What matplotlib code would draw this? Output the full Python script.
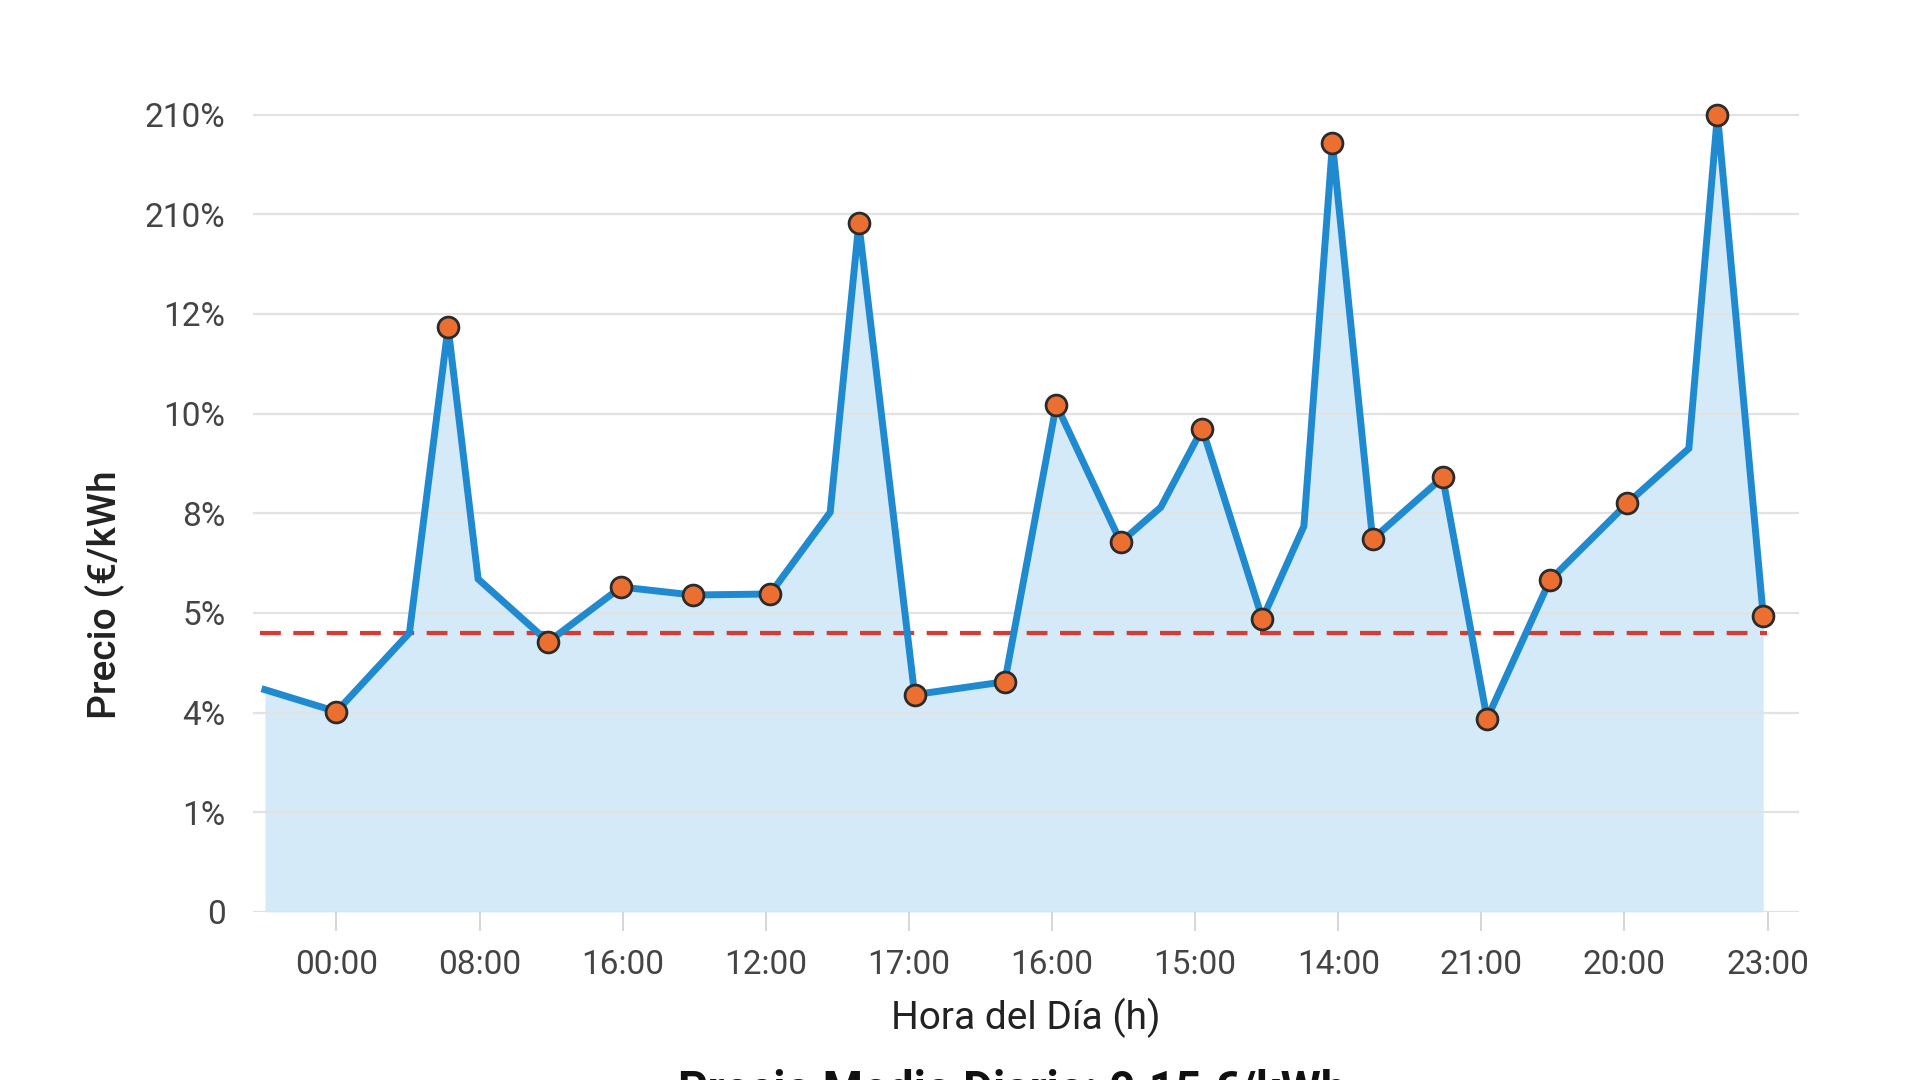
import matplotlib
matplotlib.use("Agg")
import matplotlib.pyplot as plt

plt.rcParams['font.family'] = ['Roboto', 'DejaVu Sans']

# -------------------------------------------------------
# Data (x in tick-slot units, y in grid-row units)
# -------------------------------------------------------
x_pos = [-0.50, 0.00, 0.51, 0.78, 0.99, 1.48, 1.99, 2.49, 3.03, 3.45,
         3.65, 4.04, 4.67, 5.03, 5.48, 5.76, 6.05, 6.47, 6.76, 6.96,
         7.24, 7.73, 8.04, 8.48, 9.02, 9.45, 9.65, 9.97]
precio = [2.23, 2.01, 2.80, 5.87, 3.34, 2.71, 3.26, 3.18, 3.19, 4.01,
          6.91, 2.18, 2.31, 5.09, 3.71, 4.06, 4.85, 2.94, 3.87, 7.71,
          3.74, 4.36, 1.94, 3.33, 4.10, 4.65, 8.00, 2.97]
# which vertices carry a marker
con_marca = [0, 1, 0, 1, 0, 1, 1, 1, 1, 0,
             1, 1, 1, 1, 1, 0, 1, 1, 0, 1,
             1, 1, 1, 1, 1, 0, 1, 1]
media = 2.80

x_labels = ["00:00", "08:00", "16:00", "12:00", "17:00", "16:00",
            "15:00", "14:00", "21:00", "20:00", "23:00"]
y_labels = ["0", "1%", "4%", "5%", "8%", "10%", "12%", "210%", "210%"]

# -------------------------------------------------------
# Plot
# -------------------------------------------------------
fig = plt.figure(figsize=(19.2, 10.8), dpi=100)
ax = fig.add_axes([0.132, 0.1556, 0.805, 0.766])

ax.fill_between(x_pos, precio, 0, color="#d0e8f8", alpha=0.9, lw=0, zorder=1)
ax.plot(x_pos, precio, color="#1f8ad0", lw=5, zorder=3, solid_joinstyle="miter")
mx = [x for x, m in zip(x_pos, con_marca) if m]
my = [y for y, m in zip(precio, con_marca) if m]
ax.plot(mx, my, "o", ms=15, mfc="#ec6f32", mec="#2b2b2b", mew=2, zorder=4)
ax.axhline(media, xmin=0.004, xmax=0.979, color="#d93a32", lw=3, ls=(0, (5, 3)), zorder=2)

ax.set_xlim(-0.58, 10.22)
ax.set_ylim(0, 8.3)
ax.set_yticks(range(len(y_labels)))
ax.set_yticklabels(y_labels)
ax.set_xticks(range(len(x_labels)))
ax.set_xticklabels(x_labels)

ax.grid(axis="y", color="#e2e2e2", lw=1.6, zorder=0)
for s in ax.spines.values():
    s.set_visible(False)
ax.axhline(0, color="#dcdcdc", lw=2, zorder=0)
ax.tick_params(axis="y", length=0, labelsize=24, labelcolor="#444444", pad=20)
ax.tick_params(axis="x", length=14, width=1.2, color="#d0d0d0",
               labelsize=24, labelcolor="#444444", pad=13)

ax.set_xlabel("Hora del Día (h)", fontsize=28, color="#222222", labelpad=12)
ax.set_ylabel("Precio (€/kWh", fontsize=28, color="#222222",
              fontweight="medium", family=["Liberation Sans Narrow", "Roboto", "DejaVu Sans"])
ax.yaxis.set_label_coords(-0.084, 0.383)

fig.text(0.527, -0.022, "Precio Medio Diario: 0.15 €/kWh", ha="center", va="baseline",
         fontsize=33, fontweight="bold", color="#111111")

fig.savefig("out.png", dpi=100, facecolor="white")
